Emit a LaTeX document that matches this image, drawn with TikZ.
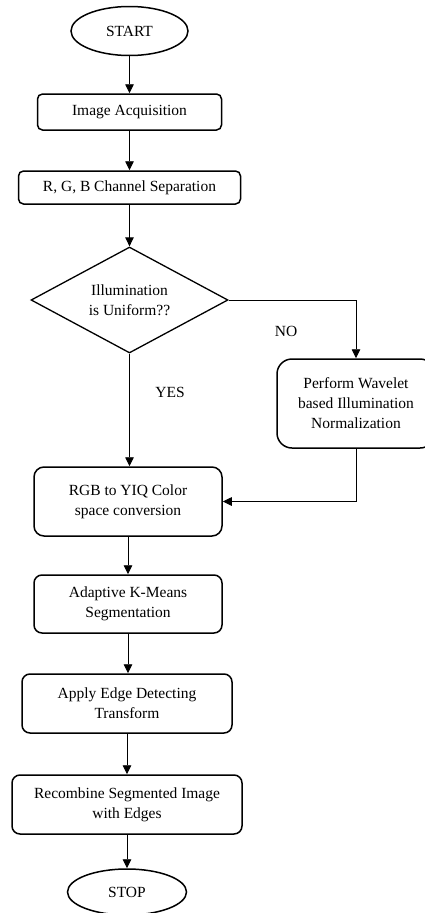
\documentclass[tikz,border=0pt]{standalone}
\usepackage{fontspec}
\setmainfont{Liberation Serif}
\usetikzlibrary{shapes.geometric,arrows.meta}
\begin{document}
\begin{tikzpicture}[x=1pt,y=-1pt,
  every node/.style={font=\fontsize{15.5}{20}\selectfont, align=center, inner sep=0pt},
  procbox/.style={draw, line width=1.5pt, rectangle, rounded corners=5pt},
  termbox/.style={draw, line width=1.5pt, ellipse},
  decbox/.style={draw, line width=1.3pt, diamond, aspect=1.86},
  flow/.style={draw, line width=0.9pt, -{Triangle[length=9pt,width=8.5pt]}},
  lbl/.style={font=\fontsize{15.5}{20}\selectfont}
]
\useasboundingbox (0,0) rectangle (425,913);
\node[termbox, minimum width=117pt, minimum height=49pt] (start) at (129.5,31) {START};
\node[procbox, minimum width=184pt, minimum height=36pt] (acq) at (129.5,112) {Image Acquisition};
\node[procbox, minimum width=222pt, minimum height=33pt] (sep) at (129.5,187.5) {R, G, B Channel Separation};
\node[decbox, minimum width=197pt, minimum height=106pt] (dec) at (129.5,300) {Illumination\\is Uniform??};
\node[procbox, rounded corners=15pt, minimum width=158pt, minimum height=89pt] (perf) at (356,403.5) {Perform Wavelet\\based Illumination\\Normalization};
\node[procbox, rounded corners=10pt, minimum width=188pt, minimum height=69pt] (yiq) at (128,501.5) {RGB to YIQ Color\\space conversion};
\node[procbox, rounded corners=8pt, minimum width=188pt, minimum height=58pt] (km) at (128,604) {Adaptive K-Means\\Segmentation};
\node[procbox, rounded corners=8pt, minimum width=210pt, minimum height=59pt] (edge) at (127,703.5) {Apply Edge Detecting\\Transform};
\node[procbox, rounded corners=8pt, minimum width=230pt, minimum height=59pt] (rec) at (127,804.5) {Recombine Segmented Image\\with Edges};
\node[termbox, minimum width=119pt, minimum height=46pt] (stop) at (127,892) {STOP};
\node[lbl] (no) at (286,331) {NO};
\node[lbl] (yes) at (170,392) {YES};
\draw[flow] (start) -- (acq);
\draw[flow] (acq) -- (sep);
\draw[flow] (sep) -- (dec);
\draw[flow] (dec.east) -| (perf.north);
\draw[flow] (dec.south) -- (dec.south |- yiq.north);
\draw[flow] (perf.south) |- (yiq.east);
\draw[flow] (yiq.south) -- (yiq.south |- km.north);
\draw[flow] (km.south) -- (km.south |- edge.north);
\draw[flow] (edge) -- (rec);
\draw[flow] (rec) -- (stop);
\end{tikzpicture}
\end{document}
